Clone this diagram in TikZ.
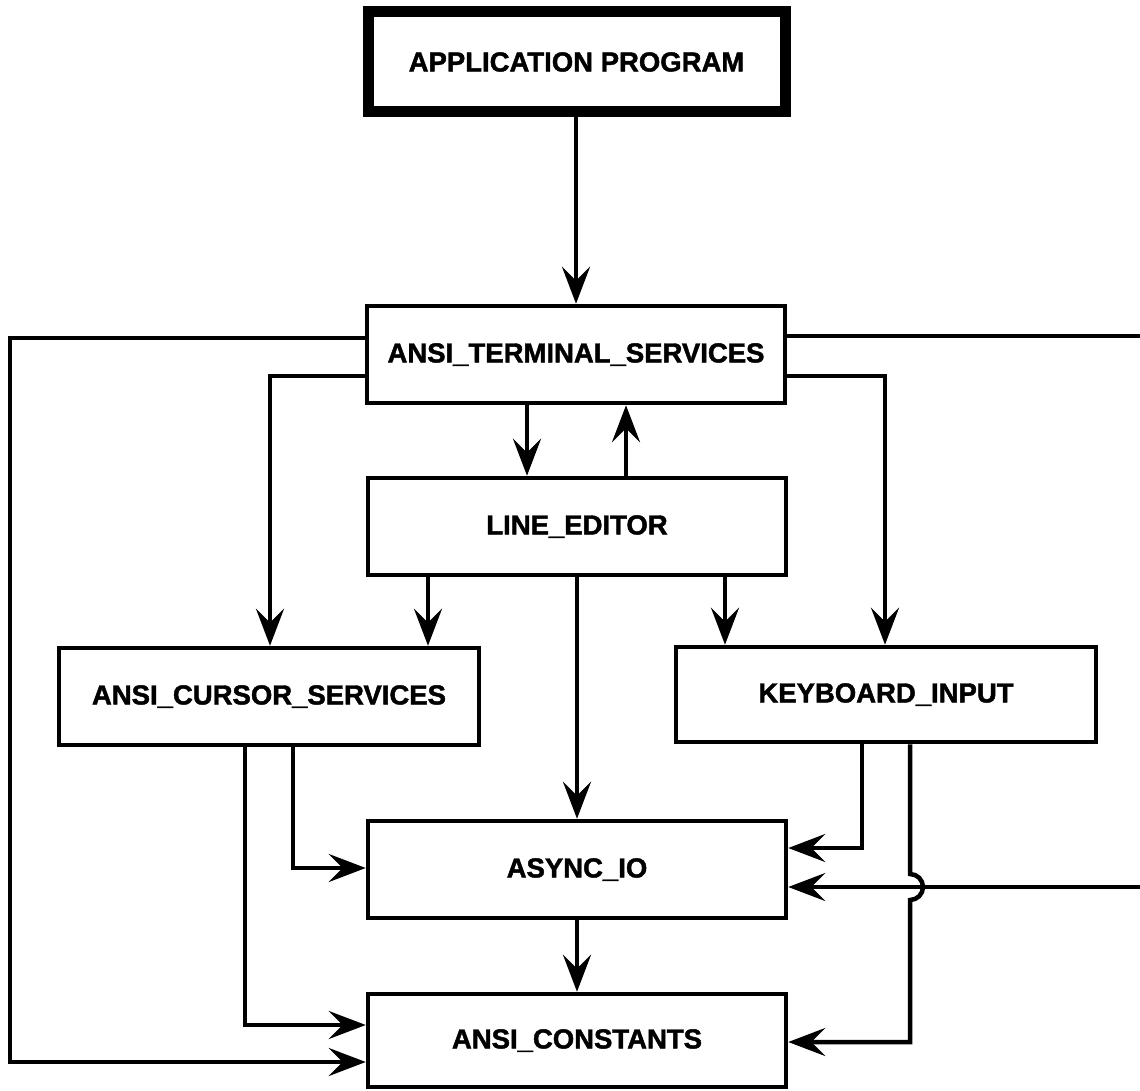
\documentclass[tikz,border=0pt]{standalone}
\usepackage{fontspec}
\setmainfont[BoldFeatures={FakeBold=1.6}]{Liberation Sans}
\usetikzlibrary{arrows.meta}
\begin{document}
\begin{tikzpicture}[x=1pt,y=-1pt,
  box/.style={draw,line width=4.5pt,inner sep=0pt,minimum width=418pt,minimum height=97pt,
    font=\bfseries\fontsize{27.5}{30}\selectfont},
  conn/.style={line width=4.5pt,line join=miter},
  arr/.style={conn,-{Stealth[length=37pt,width=28pt,inset=14pt]}}]
\useasboundingbox (0,0) rectangle (1140,1091);
\clip (0,0) rectangle (1140,1091);

% modules
\node[box,line width=11pt,minimum width=417pt,minimum height=100pt] (app) at (576.5,62) {APPLICATION PROGRAM};
\node[box] (term)   at (576,354.5)  {ANSI\_TERMINAL\_SERVICES};
\node[box] (line)   at (577,526.5)  {LINE\_EDITOR};
\node[box,minimum width=420pt] (cursor) at (269,696.5) {ANSI\_CURSOR\_SERVICES};
\node[box,minimum width=420pt,minimum height=95pt] (key) at (886,694.5) {KEYBOARD\_INPUT};
\node[box] (async)  at (577,869.5)  {ASYNC\_IO};
\node[box,minimum height=93pt] (const) at (577,1040.5) {ANSI\_CONSTANTS};

% dependencies
\draw[arr] (app.south -| term.north) -- (term.north);
\draw[arr] (term.west |- 0,338) -| (10,1062) -- (const.west |- 0,1062);
\draw[arr] (term.west |- 0,376) -| (cursor.north -| 270,0);
\draw[arr] (term.east |- 0,336) -- (1170,336) |- (async.east |- 0,887);
\draw[arr] (term.east |- 0,376) -| (key.north -| 885,0);
\draw[arr] (term.south -| 527,0) -- (line.north -| 527,0);
\draw[arr] (line.north -| 626,0) -- (term.south -| 626,0);
\draw[arr] (line.south -| 428,0) -- (cursor.north -| 428,0);
\draw[arr] (line.south -| 725,0) -- (key.north -| 725,0);
\draw[arr] (line.south) -- (async.north);
\draw[arr] (cursor.south -| 245,0) |- (const.west |- 0,1025);
\draw[arr] (cursor.south -| 293,0) |- (async.west |- 0,868);
\draw[arr] (key.south -| 862,0) |- (async.east |- 0,848);
\draw[arr] (key.south -| 910,0) -- (910,874) arc[start angle=90,end angle=-90,radius=13pt]
  |- (const.east |- 0,1042);
\draw[arr] (async.south) -- (const.north);
\end{tikzpicture}
\end{document}
